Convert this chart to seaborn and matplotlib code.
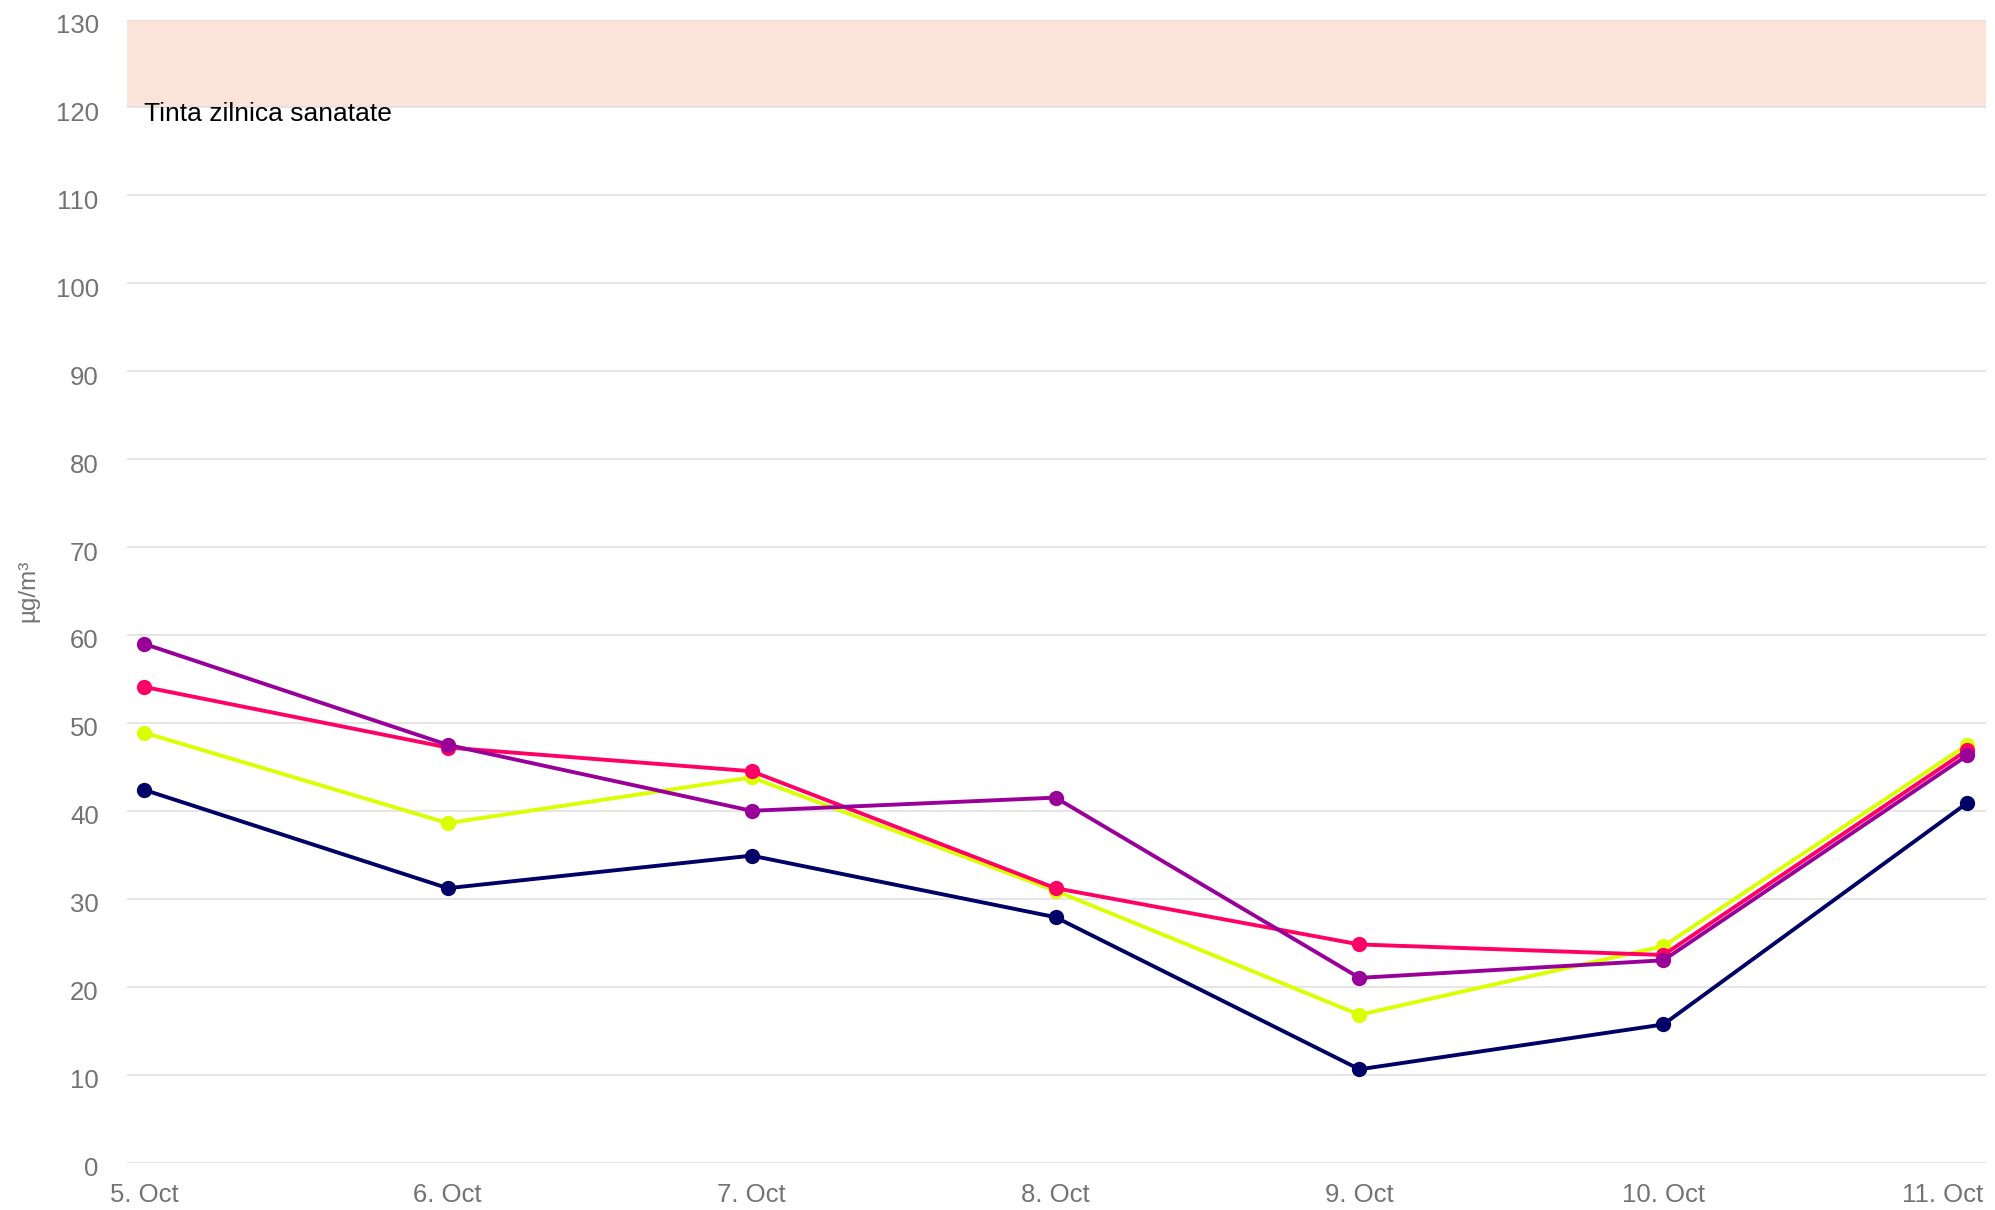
import matplotlib
matplotlib.use("Agg")
import matplotlib.pyplot as plt
import matplotlib.transforms as mtransforms
import seaborn as sns
import pandas as pd

# ---- data ----
dates = ["5. Oct", "6. Oct", "7. Oct", "8. Oct", "9. Oct", "10. Oct", "11. Oct"]
series_navy = [42.4, 31.2, 34.9, 27.9, 10.6, 15.7, 40.9]
series_yellow = [48.9, 38.6, 43.8, 30.9, 16.8, 24.6, 47.5]
series_red = [54.1, 47.2, 44.5, 31.2, 24.8, 23.6, 46.9]
series_purple = [59.0, 47.5, 40.0, 41.5, 21.0, 23.0, 46.3]
series_names = ["S1", "S2", "S3", "S4"]
series_colors = ["#000066", "#d9ff00", "#ff0066", "#990099"]
y_ticks = [0, 10, 20, 30, 40, 50, 60, 70, 80, 90, 100, 110, 120, 130]
band_range = (120, 130)
band_label = "Tinta zilnica sanatate"
y_label = "µg/m³"

rows = []
for name, vals in zip(series_names, [series_navy, series_yellow, series_red, series_purple]):
    for i, v in enumerate(vals):
        rows.append({"idx": i, "value": v, "series": name})
df = pd.DataFrame(rows)

sns.set_theme(style="white")
plt.rcParams["font.family"] = ["Liberation Sans", "DejaVu Sans"]

fig = plt.figure(figsize=(19.95, 12.10), dpi=100)
ax = fig.add_axes([126.5 / 1995, 1 - 1162.5 / 1210, (1985.5 - 126.5) / 1995, (1162.5 - 19.5) / 1210])

ax.axhspan(band_range[0], band_range[1], color="#fce3d9", zorder=0.1, lw=0)

sns.lineplot(data=df, x="idx", y="value", hue="series", hue_order=series_names,
             palette=dict(zip(series_names, series_colors)), marker="o",
             markersize=11, markeredgewidth=0, linewidth=2.8, legend=False, ax=ax,
             sort=False)

ax.set_ylim(0, 130)
ax.set_xlim(-0.057, 6.06)
ax.set_yticks(y_ticks)
ax.set_xticks(range(len(dates)))
ax.set_xticklabels(dates)
ax.grid(axis="y", color="#dedede", linewidth=1.1)
ax.grid(axis="x", visible=False)
ax.set_axisbelow(True)
for s in ax.spines.values():
    s.set_visible(False)
ax.tick_params(axis="y", length=0, pad=20, labelsize=18.5, labelcolor="#737373")
ax.tick_params(axis="x", length=0, pad=15, labelsize=18.5, labelcolor="#737373")
ax.set_xlabel("")
ax.set_ylabel(y_label, fontsize=17.5, color="#737373")
ax.yaxis.set_label_coords(-0.047, 0.5)

# y labels sit slightly below their grid lines, as in the original
for lbl in ax.get_yticklabels():
    lbl.set_transform(lbl.get_transform() + mtransforms.ScaledTranslation(0, -4 / 100, fig.dpi_scale_trans))

# keep the last date label inside the figure (justified like the original)
last = ax.get_xticklabels()[-1]
last.set_horizontalalignment("right")
last.set_transform(last.get_transform() + mtransforms.ScaledTranslation(16 / 100, 0, fig.dpi_scale_trans))

trans = mtransforms.blended_transform_factory(ax.transAxes, ax.transData)
ax.text(0.0095, 118.4, band_label, transform=trans, fontsize=19, color="#000000",
        ha="left", va="baseline")

fig.savefig("out.png", dpi=100)
